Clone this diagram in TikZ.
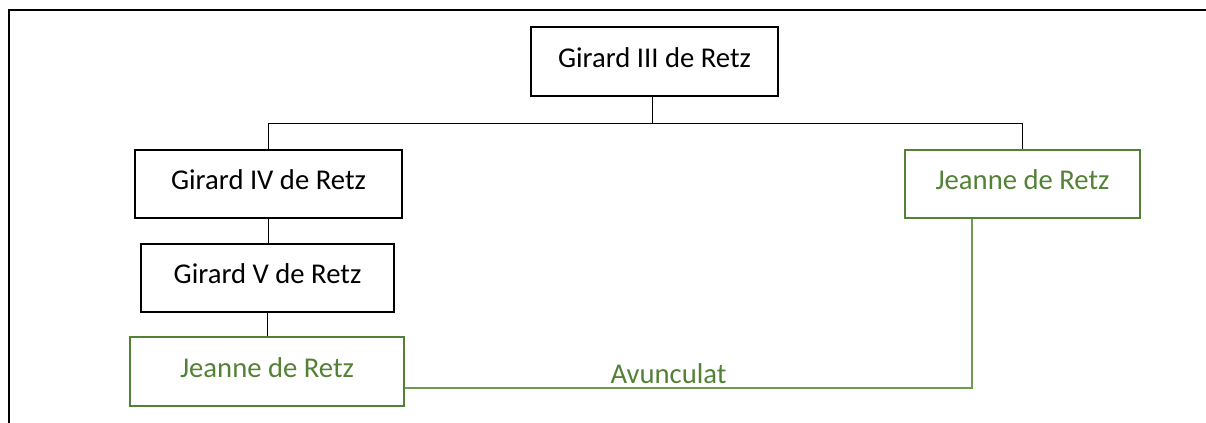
\documentclass[tikz,border=0pt]{standalone}
\usepackage{fontspec}
\setmainfont{Carlito}
\definecolor{dgreen}{HTML}{538135}
\definecolor{lgreen}{HTML}{6E9A52}
\begin{document}
\begin{tikzpicture}[x=0.75pt,y=-0.75pt,
  every node/.style={font=\fontsize{21.5pt}{25pt}\selectfont, inner sep=0pt, text height=16pt, text depth=7pt},
  pbox/.style={draw=black, line width=1.7pt, rectangle},
  gbox/.style={draw=dgreen, line width=2pt, rectangle, text=dgreen},
  conn/.style={draw=black, line width=0.75pt},
  gconn/.style={draw=lgreen, line width=1.1pt}]
\useasboundingbox (0,0) rectangle (1206,423);
\begin{scope}
\clip (0,0) rectangle (1206,423);
\draw[line width=1.5pt] (1215,10.5) -- (9,10.5) -- (9,430);
\end{scope}
\node[pbox, minimum width={247*0.75pt}, minimum height={69*0.75pt}] (G3) at (654.5,61.5) {Girard III de Retz};
\node[pbox, minimum width={267*0.75pt}, minimum height={68*0.75pt}] (G4) at (268.5,184) {Girard IV de Retz};
\node[pbox, minimum width={253*0.75pt}, minimum height={68*0.75pt}] (G5) at (267.5,278) {Girard V de Retz};
\node[gbox, minimum width={274*0.75pt}, minimum height={69*0.75pt}] (J1) at (267,371.5) {Jeanne de Retz};
\node[gbox, minimum width={235*0.75pt}, minimum height={68*0.75pt}] (J2) at (1022.5,184) {Jeanne de Retz};
\coordinate (bar) at (652,124);
\coordinate (av) at (972,388);
\draw[conn] (bar |- G3.south) -- (bar);
\draw[conn] (G4.north) -- (G4.north |- bar) -| (J2.north);
\draw[conn] (G4.south) -- (G4.south |- G5.north);
\draw[conn] (G5.south) -- (G5.south |- J1.north);
\draw[gconn] (J1.east |- av) -- (av) -- (av |- J2.south);
\node[text=dgreen, anchor=base, text height=, text depth=] (AV) at (668.5,384) {Avunculat};
\end{tikzpicture}
\end{document}
